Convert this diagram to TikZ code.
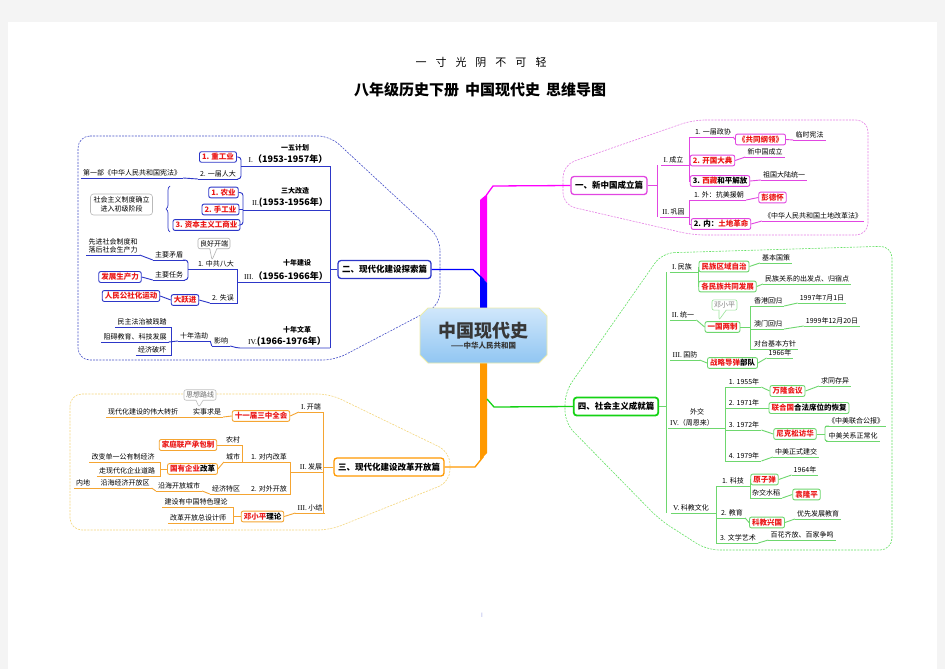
\documentclass[tikz,border=0pt]{standalone}
\usepackage{fontspec}
\setmainfont{Noto Sans CJK SC}
\newfontfamily\romanfont{Liberation Serif}
\usetikzlibrary{shapes.callouts,decorations.pathreplacing}
\definecolor{cB}{RGB}{45,55,200}
\definecolor{cBt}{RGB}{0,0,255}
\definecolor{dB}{RGB}{70,80,200}
\definecolor{cM}{RGB}{225,70,225}
\definecolor{cMt}{RGB}{255,0,255}
\definecolor{dM}{RGB}{230,130,230}
\definecolor{cG}{RGB}{110,215,110}
\definecolor{cGt}{RGB}{20,210,20}
\definecolor{dG}{RGB}{100,225,100}
\definecolor{cO}{RGB}{245,165,50}
\definecolor{cOt}{RGB}{255,153,0}
\definecolor{dO}{RGB}{245,215,125}
\definecolor{cR}{RGB}{235,25,25}
\definecolor{pg}{RGB}{244,244,244}
\definecolor{cC1}{RGB}{208,231,251}
\definecolor{cC2}{RGB}{145,198,242}
\definecolor{cY}{RGB}{236,236,170}
\definecolor{cT}{RGB}{55,55,55}
\newcommand\fs{\fontsize{7}{8.5}\selectfont}
\newcommand\fb{\fontsize{7.5}{9}\selectfont\bfseries}
\newcommand\rn[1]{{\romanfont\mdseries\fontsize{7.5}{8}\selectfont #1}}
\newcommand\rd[1]{\textcolor{cR}{#1}}
\tikzset{
  tx/.style={font=\fs, inner xsep=2pt, inner ysep=1.3pt},
  ul/.style={tx, anchor=south, append after command={(\tikzlastnode.south west) edge[#1] (\tikzlastnode.south east)}},
  lB/.style={draw=cB, line width=0.9pt},
  lM/.style={draw=cM, line width=0.9pt},
  lG/.style={draw=cG, line width=0.9pt},
  lO/.style={draw=cO, line width=0.9pt},
  bx/.style={draw=#1, fill=white, rounded corners=2pt, line width=0.9pt, font=\fb, inner xsep=2.5pt, inner ysep=1.8pt},
  rbx/.style={bx=#1, text=cR},
  hd/.style={draw=#1, fill=white, rounded corners=3pt, line width=1.3pt, font=\fontsize{8.5}{10}\selectfont\bfseries, inner xsep=4pt, minimum height=18pt},
  yr/.style={font=\fontsize{9}{10}\selectfont\bfseries, inner sep=0.5pt},
  tt/.style={font=\fontsize{7}{8.5}\selectfont\bfseries, inner sep=0.5pt},
  outl/.style={draw=#1, dash pattern=on 2pt off 1.2pt, line width=0.6pt, rounded corners=12pt},
  co/.style={rectangle callout, draw=#1, fill=white, rounded corners=2pt, font=\fs, inner sep=2pt, line width=0.6pt},
}
\begin{document}
\begin{tikzpicture}[x=1pt,y=-1pt]
\useasboundingbox (0,0) rectangle (945,669);
\fill[pg] (0,0) rectangle (945,669);
\fill[white] (8,22) rectangle (937,669);

% titles
\node[font=\fontsize{11}{12}\selectfont] (t1) at (481,62) {一\hspace{9pt}寸\hspace{9pt}光\hspace{9pt}阴\hspace{9pt}不\hspace{9pt}可\hspace{9pt}轻};
\node[font=\fontsize{15}{16}\selectfont\bfseries] (t2) at (480,90) {八年级历史下册\hspace{6pt}中国现代史\hspace{6pt}思维导图};
\node[text=cB!45, font=\fontsize{6}{6}\selectfont] (pn) at (482,615) {I};

% dashed outlines
\draw[outl=dB] (78,136) -- (330,136) -- (440,238) -- (440,305) -- (335,360) -- (78,360) -- cycle;
\draw[outl=dM] (693,120) -- (868,120) -- (868,235) -- (693,235) -- (563,205) -- (563,165) -- cycle;
\draw[outl=dG] (662,253) -- (892,246) -- (892,550) -- (707,550) -- (660,520) -- (565,423) -- (565,392) -- cycle;
\draw[outl=dO] (70,394) -- (330,394) -- (450,452) -- (450,482) -- (330,530) -- (70,530) -- cycle;

% trunk
\fill[cMt] (480,200) -- (487,194) -- (487,283) -- (480,276) -- cycle;
\fill[cBt] (480,276) -- (487,283) -- (487,311) -- (480,311) -- cycle;
\fill[cOt] (480,362) -- (487,362) -- (487,453) -- (480,460) -- cycle;

% center
\path[draw=cY, line width=0.8pt, top color=cC1, bottom color=cC2] (420,316) -- (428,308) -- (539,308) -- (547,316) -- (547,355) -- (539,363) -- (428,363) -- (420,355) -- cycle;
\node[align=center, text=cT, inner sep=0pt] (c) at (483.5,336) {{\fontsize{18}{20}\selectfont\bfseries 中国现代史}\\[-1pt]{\fontsize{7.5}{9}\selectfont\bfseries ——中华人民共和国}};

% main nodes
\node[hd=cM] (n1) at (609,185.5) {一、新中国成立篇};
\node[hd=cB] (n2) at (384.5,269.5) {二、现代化建设探索篇};
\node[hd=cOt] (n3) at (389,467) {三、现代化建设改革开放篇};
\node[hd=cGt, line width=1.8pt] (n4) at (616,406.5) {四、社会主义成就篇};
\draw[cMt, line width=1.3pt] (486.5,195) -- (493,186) -- (n1.west);
\draw[cBt, line width=1.3pt] (n2.east) -- (473,269.5) -- (484,280);
\draw[cOt, line width=1.3pt] (483.5,456.5) -- (475,467) -- (n3.east);
\draw[cGt, line width=1.3pt] (487,399) -- (494,407) -- (n4.west);

%%%%%%%% BLUE
\draw[lB] (n2.west) -- (330,269.5);
\draw[lB] (330,166) -- (330,348);
% I
\node[tt] (p1) at (295,148) {一五计划};
\node[yr] (y1) at (288,159) {\rn{I.}（1953-1957年）};
\node[rbx=cB] (b11) at (218,157) {1. 重工业};
\node[ul=lB] (b12) at (218,179) {2. 一届人大};
\node[ul=lB] (b10) at (132,178) {第一部《中华人民共和国宪法》};
\draw[lB] (330,166) -- (241,166);
\draw[lB, rounded corners=3pt] (b11.east) -- (241,157) -- (241,179) -- (b12.south east);
\draw[lB] (b10.south east) -- (b12.south west);
% II
\node[tt] (p2) at (295,191) {三大改造};
\node[yr] (y2) at (290,203) {\rn{II.}(1953-1956年）};
\node[rbx=cB] (b21) at (223.5,192.5) {1. 农业};
\node[rbx=cB] (b22) at (220.5,209.5) {2. 手工业};
\node[rbx=cB] (b23) at (206.5,225) {3. 资本主义工商业};
\draw[lB] (330,210) -- (243,210);
\draw[lB, rounded corners=3pt] (b21.east) -- (243,192.5) -- (243,225) -- (b23.east);
\draw[lB] (b22.east) -- (243,209.5);
\node[draw=gray!55, rounded corners=3pt, font=\fs, align=center, inner sep=3pt, line width=0.6pt] (b20) at (121.5,204.5) {社会主义制度确立\\进入初级阶段};
\draw[lB, line width=0.7pt, decorate, decoration={brace, amplitude=4pt}] (170,232) -- (170,186);
% III
\node[tt] (p3) at (297,263) {十年建设};
\node[yr] (y3) at (286,276) {\rn{III.}（1956-1966年）};
\node[ul=lB] (b31) at (216,269) {1. 中共八大};
\node[ul=lB] (b32) at (223,303) {2. 失误};
\draw[lB] (330,282) -- (237,282);
\draw[lB] (b31.south east) -- (237,269) -- (237,303) -- (b32.south east);
\node[co=gray!60, callout absolute pointer={(212,260)}] (c31) at (214,243.5) {良好开端};
\node[ul=lB] (b3a) at (169,260) {主要矛盾};
\node[ul=lB] (b3b) at (169,280) {主要任务};
\draw[lB, rounded corners=3pt] (b3a.south east) -- (188,260) -- (188,280) -- (b3b.south east);
\draw[lB] (188,269) -- (b31.south west);
\node[ul=lB, align=left] (b3c) at (113,255) {先进社会制度和\\落后社会生产力};
\draw[lB] (b3c.south east) -- (b3a.south west);
\node[rbx=cB] (b3d) at (120,277) {发展生产力};
\draw[lB] (b3d.east) -- (b3b.south west);
\node[rbx=cB] (b3e) at (185,300) {大跃进};
\node[rbx=cB] (b3f) at (131,296) {人民公社化运动};
\draw[lB] (b3e.east) -- (b32.south west);
\draw[lB] (b3f.east) -- (b3e.west);
% IV
\node[tt] (p4) at (297,330) {十年文革};
\node[yr] (y4) at (287,342) {\rn{IV.}(1966-1976年）};
\node[ul=lB] (b41) at (221,346) {影响};
\draw[lB, rounded corners=2pt] (b41.south east) -- (238,348) -- (330,348);
\node[ul=lB] (b42) at (194,341) {十年浩劫};
\draw[lB] (b42.south east) -- (b41.south west);
\node[ul=lB] (b43) at (142,327) {民主法治被践踏};
\node[ul=lB] (b44) at (135,342) {阻碍教育、科技发展};
\node[ul=lB] (b45) at (152,355) {经济破坏};
\draw[lB] (b43.south east) -- (171,327) -- (171,355) -- (b45.south east);
\draw[lB] (b44.south east) -- (b42.south west);

%%%%%%%% MAGENTA
\draw[lM] (n1.east) -- (657,185.5);
\draw[lM] (657,165) -- (657,217);
\node[ul=lM] (m1) at (673.5,165) {\rn{I.} 成立};
\node[ul=lM] (m2) at (673.5,217) {\rn{II.} 巩固};
\draw[lM] (m1.south east) -- (689,165);
\draw[lM] (m2.south east) -- (689,217);
\node[ul=lM] (m11) at (713,137) {1. 一届政协};
\node[rbx=cM] (m11a) at (760.5,139.5) {《共同纲领》};
\node[ul=lM] (m11b) at (809.5,140) {临时宪法};
\draw[lM] (m11.south east) -- (m11a.west);
\draw[lM] (m11a.east) -- (m11b.south west);
\node[rbx=cM] (m12) at (712.5,160.5) {2. 开国大典};
\node[ul=lM] (m12b) at (765,157) {新中国成立};
\draw[lM] (m12.east) -- (m12b.south west);
\node[bx=cM] (m13) at (720,181) {3. \rd{西藏}和平解放};
\node[ul=lM] (m13b) at (784,180) {祖国大陆统一};
\draw[lM] (m13.east) -- (m13b.south west);
\draw[lM] (m11.south west) -- (689,137) -- (689,181) -- (m13.west);
\draw[lM] (689,160.5) -- (m12.west);
\node[ul=lM] (m21) at (719,200) {1. 外：抗美援朝};
\node[rbx=cM] (m21a) at (772.5,197.5) {彭德怀};
\draw[lM] (m21.south east) -- (m21a.west);
\node[bx=cM] (m22) at (721,224) {2. 内：\rd{土地革命}};
\node[ul=lM] (m22b) at (813,221) {《中华人民共和国土地改革法》};
\draw[lM] (m22.east) -- (m22b.south west);
\draw[lM] (m21.south west) -- (689,200) -- (689,224) -- (m22.west);

%%%%%%%% GREEN
\draw[lG] (n4.east) -- (666,406.5);
\draw[lG] (666,272) -- (666,513);
\node[ul=lG] (g1) at (682,272) {\rn{I.} 民族};
\draw[lG] (g1.south east) -- (698,272);
\draw[lG] (698,266.5) -- (698,286.5);
\node[rbx=cG] (g11) at (724,266.5) {民族区域自治};
\node[rbx=cG] (g12) at (727.5,286.5) {各民族共同发展};
\node[ul=lG] (g11b) at (776,263) {基本国策};
\draw[lG] (g11.east) -- (g11b.south west);
\node[ul=lG] (g12b) at (807,284) {民族关系的出发点、归宿点};
\draw[lG] (g12.east) -- (g12b.south west);
\node[ul=lG] (g2) at (683,320) {\rn{II.} 统一};
\node[rbx=cG] (g21) at (722.5,327) {一国两制};
\draw[lG] (g2.south east) -- (g21.west);
\node[co=cG!70, text=gray, callout absolute pointer={(719,320)}] (g2c) at (724.5,305) {邓小平};
\draw[lG] (g21.east) -- (750,327);
\node[ul=lG] (g22) at (768,306) {香港回归};
\node[ul=lG] (g22b) at (822,303) {1997年7月1日};
\draw[lG] (g22.south east) -- (g22b.south west);
\node[ul=lG] (g23) at (768,329) {澳门回归};
\node[ul=lG] (g23b) at (832,326) {1999年12月20日};
\draw[lG] (g23.south east) -- (g23b.south west);
\node[ul=lG] (g24) at (775,349) {对台基本方针};
\draw[lG] (g22.south west) -- (750,306) -- (750,349) -- (g24.south west);
\draw[lG] (750,329) -- (g23.south west);
\node[ul=lG] (g3) at (685,360) {\rn{III.} 国防};
\node[bx=cG] (g31) at (732.5,363) {\rd{战略导弹}部队};
\draw[lG] (g3.south east) -- (g31.west);
\node[ul=lG] (g31b) at (780,358) {1966年};
\draw[lG] (g31.east) -- (g31b.south west);
\node[tx] (g4a) at (697,412) {外交};
\node[ul=lG] (g4) at (692,428) {\rn{IV.}（周恩来）};
\draw[lG] (g4.south east) -- (725,428);
\node[ul=lG] (g41) at (744,387) {1. 1955年};
\node[rbx=cG] (g41a) at (787.5,391) {万隆会议};
\node[ul=lG] (g41b) at (835,386) {求同存异};
\draw[lG] (g41.south east) -- (g41a.west);
\draw[lG] (g41a.east) -- (g41b.south west);
\node[ul=lG] (g42) at (744,408) {2. 1971年};
\node[bx=cG] (g42a) at (809,408) {\rd{联合国}合法席位的恢复};
\draw[lG] (g42.south east) -- (g42a.west);
\node[ul=lG] (g43) at (744,430) {3. 1972年};
\node[rbx=cG] (g43a) at (795,434) {尼克松访华};
\draw[lG] (g43.south east) -- (g43a.west);
\node[ul=lG] (g43b) at (856,426) {《中美联合公报》};
\node[ul=lG] (g43c) at (853,441) {中美关系正常化};
\draw[lG, rounded corners=2pt] (g43b.south west) -- (825,426) -- (825,441) -- (g43c.south west);
\draw[lG] (g43a.east) -- (825,434);
\node[ul=lG] (g44) at (744,461) {4. 1979年};
\node[ul=lG] (g44b) at (796,457) {中美正式建交};
\draw[lG] (g44.south east) -- (g44b.south west);
\draw[lG] (g41.south west) -- (725,387) -- (725,461) -- (g44.south west);
\draw[lG] (725,408) -- (g42.south west);
\draw[lG] (725,430) -- (g43.south west);
\node[ul=lG] (g5) at (691,513) {\rn{V.} 科教文化};
\draw[lG] (g5.south east) -- (716,513);
\node[ul=lG] (g51) at (733,486) {1. 科技};
\node[rbx=cG] (g51a) at (764.5,479.5) {原子弹};
\node[ul=lG] (g51b) at (805,475) {1964年};
\node[ul=lG] (g51c) at (766,498) {杂交水稻};
\node[rbx=cG] (g51d) at (806.5,494.5) {袁隆平};
\draw[lG] (g51.south east) -- (750,486);
\draw[lG] (g51a.west) -- (750,479.5) -- (750,498) -- (g51c.south west);
\draw[lG] (g51a.east) -- (g51b.south west);
\draw[lG] (g51c.south east) -- (g51d.west);
\node[ul=lG] (g52) at (732,518) {2. 教育};
\node[rbx=cG] (g52a) at (767,522.5) {科教兴国};
\node[ul=lG] (g52b) at (818,519) {优先发展教育};
\draw[lG] (g52.south east) -- (g52a.west);
\draw[lG] (g52a.east) -- (g52b.south west);
\node[ul=lG] (g53) at (738,543) {3. 文学艺术};
\node[ul=lG] (g53b) at (802,540) {百花齐放、百家争鸣};
\draw[lG] (g53.south east) -- (g53b.south west);
\draw[lG] (g51.south west) -- (716,486) -- (716,543) -- (g53.south west);
\draw[lG] (716,518) -- (g52.south west);

%%%%%%%% ORANGE
\draw[lO] (n3.west) -- (323,467);
\draw[lO] (323,412) -- (323,513);
\node[ul=lO] (o1) at (311,412) {\rn{I.} 开端};
\node[rbx=cO] (o1a) at (261,416) {十一届三中全会};
\draw[lO] (o1.south east) -- (323,412);
\draw[lO] (o1.south west) -- (o1a.east);
\node[ul=lO] (o1b) at (207,417) {实事求是};
\draw[lO] (o1b.south east) -- (o1a.west);
\node[ul=lO] (o1c) at (143,417) {现代化建设的伟大转折};
\draw[lO] (o1c.south east) -- (o1b.south west);
\node[co=gray!50, text=gray!80!black, callout absolute pointer={(199,407)}] (o1d) at (200,395) {思想路线};
\node[ul=lO] (o2) at (311,472) {\rn{II.} 发展};
\draw[lO] (o2.south east) -- (323,472);
\node[ul=lO] (o21) at (269,462) {1. 对内改革};
\node[ul=lO] (o22) at (269,494) {2. 对外开放};
\draw[lO] (o21.south east) -- (290,462) -- (290,494) -- (o22.south east);
\draw[lO] (o2.south west) -- (290,472);
\node[ul=lO] (o2a) at (233,445) {农村};
\node[ul=lO] (o2b) at (233,462) {城市};
\draw[lO] (o21.south west) -- (o2b.south east) -- (o2a.south east);
\node[rbx=cO] (o2c) at (188,445) {家庭联产承包制};
\draw[lO] (o2c.east) -- (o2a.south west);
\node[bx=cO] (o2d) at (192.5,469) {\rd{国有企业}改革};
\draw[lO] (o2d.east) -- (o2b.south west);
\node[ul=lO] (o2e) at (123,462) {改变单一公有制经济};
\node[ul=lO] (o2f) at (127,476) {走现代化企业道路};
\draw[lO] (o2e.south east) -- (160,462) -- (160,476) -- (o2f.south east);
\draw[lO] (160,469) -- (o2d.west);
\node[ul=lO] (o2g) at (226,494) {经济特区};
\draw[lO] (o22.south west) -- (o2g.south east);
\node[ul=lO] (o2h) at (179,491) {沿海开放城市};
\draw[lO] (o2g.south west) -- (o2h.south east);
\node[ul=lO] (o2i) at (125,488) {沿海经济开放区};
\draw[lO] (o2h.south west) -- (o2i.south east);
\node[ul=lO] (o2j) at (83,488) {内地};
\draw[lO] (o2i.south west) -- (o2j.south east);
\node[ul=lO] (o3) at (310,513) {\rn{III.} 小结};
\draw[lO] (o3.south east) -- (323,513);
\node[bx=cO] (o3a) at (262.5,516.5) {\rd{邓小平}理论};
\draw[lO] (o3.south west) -- (o3a.east);
\node[ul=lO] (o3b) at (196,507) {建设有中国特色理论};
\node[ul=lO] (o3c) at (198,523) {改革开放总设计师};
\draw[lO] (o3b.south east) -- (233,507) -- (233,523) -- (o3c.south east);
\draw[lO] (233,516.5) -- (o3a.west);
\end{tikzpicture}
\end{document}
